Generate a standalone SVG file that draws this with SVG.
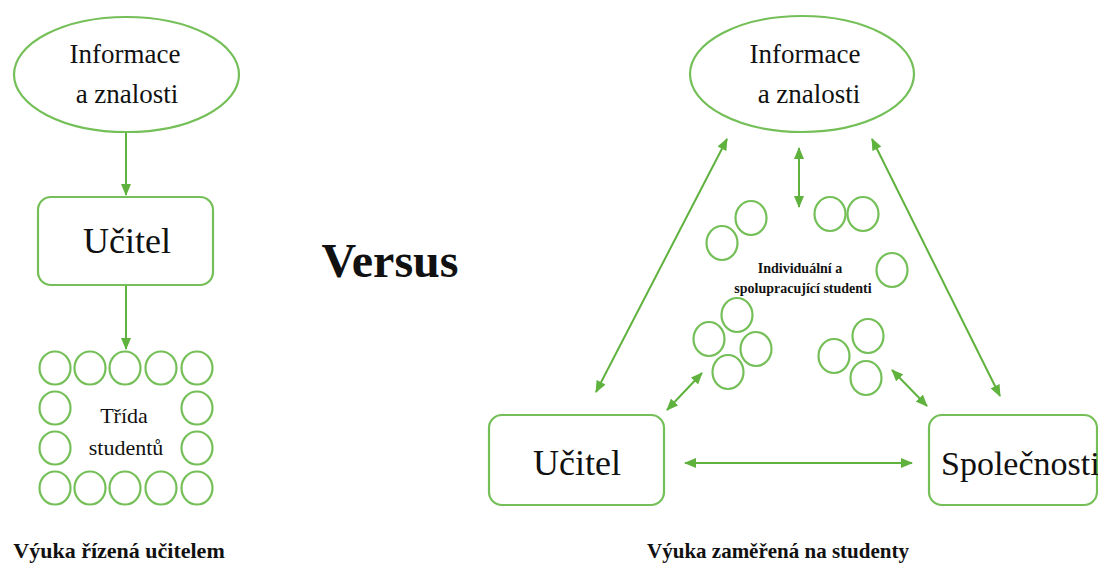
<svg xmlns="http://www.w3.org/2000/svg" width="1098" height="569" viewBox="0 0 1098 569">
  <defs>
    <style>
      .shape { fill: #ffffff; stroke: #74bf57; stroke-width: 2.2; }
      .student { fill: none; stroke: #74bf57; stroke-width: 2.2; }
      .link { fill: none; stroke: #5fb23e; stroke-width: 2; }
      text { font-family: "Liberation Serif", "Times New Roman", "DejaVu Serif", serif; fill: #111111; }
      .bold { font-weight: bold; }
    </style>
    <marker id="head" viewBox="0 0 12 10" refX="11" refY="5" markerWidth="12" markerHeight="10" markerUnits="userSpaceOnUse" orient="auto-start-reverse">
      <path d="M0,0 L12,5 L0,10 z" fill="#5fb23e"/>
    </marker>
  </defs>

  <rect x="0" y="0" width="1098" height="569" fill="#ffffff"/>

  <!-- Left: teacher-led instruction -->
  <g id="left-info">
    <ellipse class="shape" cx="126.5" cy="74.5" rx="112.5" ry="57.5"/>
    <text x="125" y="63" font-size="27" text-anchor="middle" font-family="Liberation Serif, serif">Informace</text>
    <text x="127" y="103" font-size="27" text-anchor="middle" font-family="Liberation Serif, serif">a znalosti</text>
  </g>

  <g id="left-teacher">
    <rect class="shape" x="38" y="197" width="175" height="88" rx="13" ry="13"/>
    <text x="127" y="253" font-size="36" text-anchor="middle" font-family="Liberation Serif, serif">Učitel</text>
  </g>

  <g id="left-class">
    <ellipse class="student" cx="55" cy="368" rx="15.5" ry="16.5"/>
    <ellipse class="student" cx="90" cy="368" rx="15.5" ry="16.5"/>
    <ellipse class="student" cx="125" cy="368" rx="15.5" ry="16.5"/>
    <ellipse class="student" cx="161" cy="368" rx="15.5" ry="16.5"/>
    <ellipse class="student" cx="197" cy="368" rx="15.5" ry="16.5"/>
    <ellipse class="student" cx="55" cy="408" rx="15.5" ry="16.5"/>
    <ellipse class="student" cx="197" cy="408" rx="15.5" ry="16.5"/>
    <ellipse class="student" cx="55" cy="448" rx="15.5" ry="16.5"/>
    <ellipse class="student" cx="197" cy="448" rx="15.5" ry="16.5"/>
    <ellipse class="student" cx="55" cy="488" rx="15.5" ry="16.5"/>
    <ellipse class="student" cx="90" cy="488" rx="15.5" ry="16.5"/>
    <ellipse class="student" cx="125" cy="488" rx="15.5" ry="16.5"/>
    <ellipse class="student" cx="161" cy="488" rx="15.5" ry="16.5"/>
    <ellipse class="student" cx="197" cy="488" rx="15.5" ry="16.5"/>
    <text x="124" y="423" font-size="22" text-anchor="middle" font-family="Liberation Serif, serif">Třída</text>
    <text x="126" y="455" font-size="22" text-anchor="middle" font-family="Liberation Serif, serif">studentů</text>
  </g>

  <text class="bold" x="119" y="558" font-size="22" text-anchor="middle" font-family="Liberation Serif, serif">Výuka řízená učitelem</text>

  <text class="bold" x="390" y="277" font-size="48" text-anchor="middle" font-family="Liberation Serif, serif">Versus</text>

  <!-- Right: student-centred instruction -->
  <g id="right-info">
    <ellipse class="shape" cx="802" cy="74" rx="112" ry="58"/>
    <text x="805" y="63" font-size="27" text-anchor="middle" font-family="Liberation Serif, serif">Informace</text>
    <text x="809" y="103" font-size="27" text-anchor="middle" font-family="Liberation Serif, serif">a znalosti</text>
  </g>

  <g id="right-students">
    <ellipse class="student" cx="722" cy="243" rx="15.5" ry="17"/>
    <ellipse class="student" cx="751" cy="218" rx="15.5" ry="17"/>
    <ellipse class="student" cx="830" cy="214" rx="15.5" ry="17"/>
    <ellipse class="student" cx="863" cy="214" rx="15.5" ry="17"/>
    <ellipse class="student" cx="892" cy="270" rx="15.5" ry="17"/>
    <ellipse class="student" cx="737" cy="315" rx="15.5" ry="17"/>
    <ellipse class="student" cx="709" cy="339" rx="15.5" ry="17"/>
    <ellipse class="student" cx="756" cy="349" rx="15.5" ry="17"/>
    <ellipse class="student" cx="728" cy="372" rx="15.5" ry="17"/>
    <ellipse class="student" cx="868" cy="336" rx="15.5" ry="17"/>
    <ellipse class="student" cx="834" cy="356" rx="15.5" ry="17"/>
    <ellipse class="student" cx="866" cy="378" rx="15.5" ry="17"/>
    <text class="bold" x="800" y="273" font-size="14" text-anchor="middle" font-family="Liberation Serif, serif">Individuální a</text>
    <text class="bold" x="803" y="293" font-size="14" text-anchor="middle" font-family="Liberation Serif, serif">spolupracující studenti</text>
  </g>

  <g id="right-teacher">
    <rect class="shape" x="489" y="415" width="175" height="90" rx="13" ry="13"/>
    <text x="577" y="475" font-size="36" text-anchor="middle" font-family="Liberation Serif, serif">Učitel</text>
  </g>

  <g id="right-society">
    <rect class="shape" x="929" y="415" width="168" height="90" rx="13" ry="13"/>
    <text x="941" y="475" font-size="34" font-family="Liberation Serif, serif">Společnosti</text>
  </g>

  <text class="bold" x="778" y="558" font-size="21" text-anchor="middle" font-family="Liberation Serif, serif">Výuka zaměřená na studenty</text>

  <g id="connectors">
    <line class="link" x1="126" y1="133" x2="126" y2="195" marker-end="url(#head)"/>
    <line class="link" x1="126" y1="286" x2="126" y2="349" marker-end="url(#head)"/>
    <line class="link" x1="727" y1="139" x2="596" y2="392" marker-start="url(#head)" marker-end="url(#head)"/>
    <line class="link" x1="799" y1="148" x2="799" y2="207" marker-start="url(#head)" marker-end="url(#head)"/>
    <line class="link" x1="872" y1="139" x2="1000" y2="396" marker-start="url(#head)" marker-end="url(#head)"/>
    <line class="link" x1="702" y1="373" x2="667" y2="410" marker-start="url(#head)" marker-end="url(#head)"/>
    <line class="link" x1="892" y1="370" x2="927" y2="406" marker-start="url(#head)" marker-end="url(#head)"/>
    <line class="link" x1="685" y1="463" x2="912" y2="463" marker-start="url(#head)" marker-end="url(#head)"/>
  </g>
</svg>
